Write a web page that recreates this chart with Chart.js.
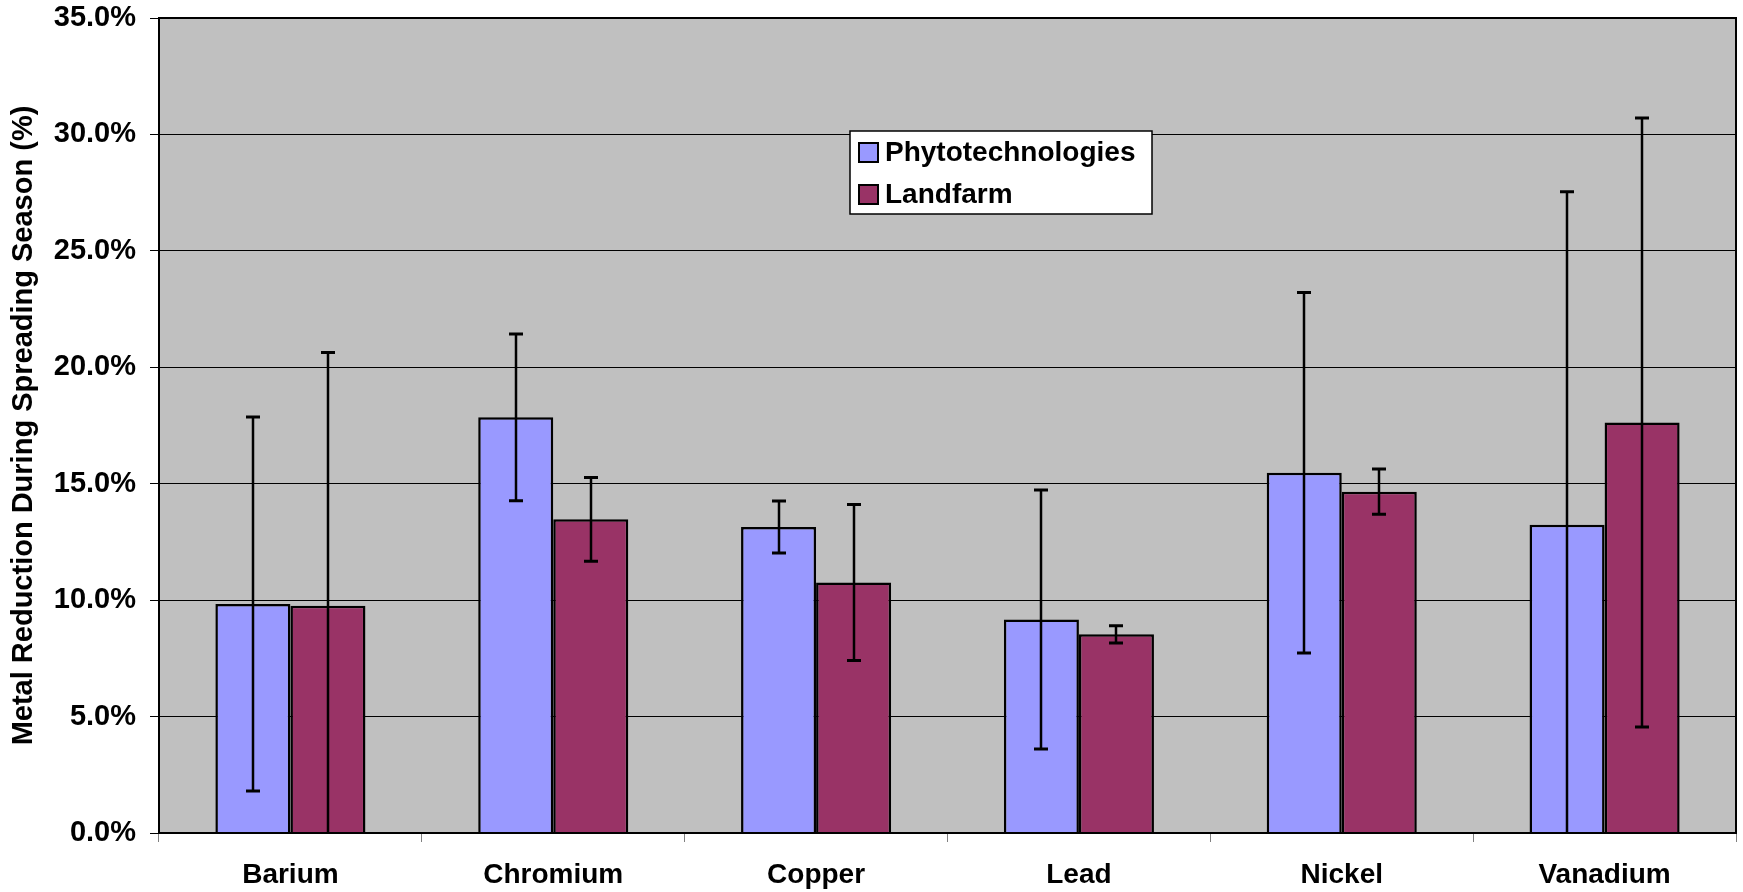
<!DOCTYPE html>
<html>
<head>
<meta charset="utf-8">
<script src="https://cdn.jsdelivr.net/npm/chart.js@4.4.0/dist/chart.umd.min.js"></script>
<style>
  body { margin: 0; background: #fff; }
</style>
</head>
<body>
<canvas id="myChart" width="1743" height="892"></canvas>
<script>
var metals = ['Barium', 'Chromium', 'Copper', 'Lead', 'Nickel', 'Vanadium'];
var phyto = [9.83, 17.85, 13.14, 9.17, 15.47, 13.24];
var phytoErr = [8.03, 3.58, 1.12, 5.56, 7.74, 14.3];
var landfarm = [9.76, 13.47, 10.76, 8.53, 14.66, 17.63];
var landfarmErr = [10.88, 1.8, 3.35, 0.37, 0.97, 13.08];
var yTicks = [0, 5, 10, 15, 20, 25, 30, 35];

var errors = [phytoErr, landfarmErr];

// grey plot background + frame
var plotFrame = {
    id: 'plotFrame',
    beforeDraw: function(chart) {
        var a = chart.chartArea, ctx = chart.ctx;
        ctx.save();
        ctx.fillStyle = '#c0c0c0';
        ctx.fillRect(a.left, a.top, a.right - a.left, a.bottom - a.top);
        ctx.restore();
    },
    afterDraw: function(chart) {
        var a = chart.chartArea, ctx = chart.ctx;
        ctx.save();
        ctx.strokeStyle = '#000';
        ctx.lineWidth = 2;
        ctx.strokeRect(a.left, a.top, a.right - a.left, a.bottom - a.top);
        ctx.restore();
    }
};

// error bars, clipped to the plot area like excel does
var errorBars = {
    id: 'errorBars',
    afterDatasetsDraw: function(chart) {
        var a = chart.chartArea, ctx = chart.ctx, y = chart.scales.y;
        ctx.save();
        ctx.beginPath();
        ctx.rect(a.left, a.top - 1, a.right - a.left, a.bottom - a.top + 1);
        ctx.clip();
        ctx.strokeStyle = '#000';
        chart.data.datasets.forEach(function(ds, i) {
            var meta = chart.getDatasetMeta(i);
            meta.data.forEach(function(bar, j) {
                var v = ds.data[j], e = errors[i][j];
                var x = Math.round(bar.x);
                var yHi = y.getPixelForValue(v + e);
                var yLo = y.getPixelForValue(v - e);
                ctx.lineWidth = 2.5;
                ctx.beginPath();
                ctx.moveTo(x, yHi);
                ctx.lineTo(x, yLo);
                ctx.stroke();
                ctx.lineWidth = 3;
                ctx.beginPath();
                ctx.moveTo(x - 7, yHi);
                ctx.lineTo(x + 7, yHi);
                ctx.moveTo(x - 7, yLo);
                ctx.lineTo(x + 7, yLo);
                ctx.stroke();
            });
        });
        ctx.restore();
    }
};

// legend box sitting inside the plot
var boxLegend = {
    id: 'boxLegend',
    afterDraw: function(chart) {
        var ctx = chart.ctx;
        var bx = 850, by = 131, bw = 302, bh = 83;
        ctx.save();
        ctx.fillStyle = '#fff';
        ctx.fillRect(bx, by, bw, bh);
        ctx.strokeStyle = '#000';
        ctx.lineWidth = 1.5;
        ctx.strokeRect(bx, by, bw, bh);
        ctx.font = 'bold 28px "Liberation Sans", Arial, sans-serif';
        ctx.textBaseline = 'middle';
        chart.data.datasets.forEach(function(ds, i) {
            var cy = by + 21 + i * 42;
            ctx.fillStyle = ds.backgroundColor;
            ctx.fillRect(bx + 9, cy - 9, 19, 19);
            ctx.lineWidth = 2;
            ctx.strokeStyle = '#000';
            ctx.strokeRect(bx + 9, cy - 9, 19, 19);
            ctx.fillStyle = '#000';
            ctx.fillText(ds.label, bx + 35, cy + 1);
        });
        ctx.restore();
    }
};

var data = {
    labels: metals,
    datasets: [
        {
            label: 'Phytotechnologies',
            data: phyto,
            backgroundColor: '#9999ff',
            borderColor: '#000',
            borderWidth: 2.5
        },
        {
            label: 'Landfarm',
            data: landfarm,
            backgroundColor: '#993366',
            borderColor: '#000',
            borderWidth: 2.5
        }
    ]
};

var family = '"Liberation Sans", Arial, sans-serif';

var options = {
    responsive: false,
    animation: false,
    layout: { padding: { top: 18, right: 7, left: 0, bottom: 0 } },
    datasets: { bar: { categoryPercentage: 0.571, barPercentage: 1 } },
    plugins: {
        legend: { display: false },
        tooltip: { enabled: false }
    },
    scales: {
        x: {
            grid: { drawOnChartArea: false, drawTicks: true, tickLength: 9, offset: true, color: '#808080', lineWidth: 1 },
            border: { color: '#000', width: 2 },
            ticks: { color: '#000', font: { family: family, weight: 'bold', size: 28 }, padding: 16, maxRotation: 0 },
            afterFit: function(scale) {
                scale.height = 59;
                scale.paddingLeft = 0;
                scale.paddingRight = 0;
            }
        },
        y: {
            min: 0,
            max: 35,
            afterBuildTicks: function(scale) {
                scale.ticks = yTicks.map(function(v) { return { value: v }; });
            },
            grid: { color: '#000', lineWidth: 1, tickLength: 9 },
            border: { color: '#000', width: 2 },
            ticks: {
                color: '#000',
                font: { family: family, weight: 'bold', size: 29 },
                padding: 14,
                callback: function(v) { return v.toFixed(1) + '%'; }
            },
            title: {
                display: true,
                text: 'Metal Reduction During Spreading Season (%)',
                color: '#000',
                font: { family: family, weight: 'bold', size: 29 },
                padding: { top: 7, bottom: 0 }
            },
            afterFit: function(scale) {
                scale.width = 159;
                scale.paddingTop = 0;
                scale.paddingBottom = 0;
            }
        }
    }
};

var ctx1 = document.getElementById('myChart').getContext('2d');
var myBarChart = new Chart(ctx1, {
    type: 'bar',
    data: data,
    options: options,
    plugins: [plotFrame, errorBars, boxLegend]
});
</script>
</body>
</html>
